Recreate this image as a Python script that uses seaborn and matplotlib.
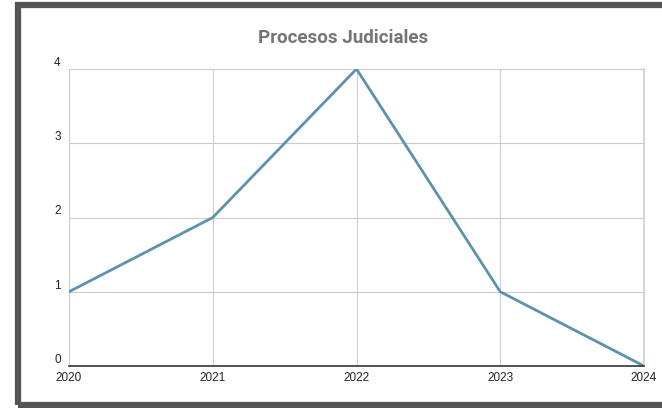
import matplotlib
matplotlib.use("Agg")
import matplotlib.pyplot as plt
import seaborn as sns
import pandas as pd
from matplotlib.patches import Rectangle

# ── Data ─────────────────────────────────────────────────────
years = [2020, 2021, 2022, 2023, 2024]
procesos = [1, 2, 4, 1, 0]
y_ticks = [0, 1, 2, 3, 4]

df = pd.DataFrame({"Año": years, "Procesos": procesos})

sns.set_style("whitegrid")
plt.rcParams["font.family"] = ["Liberation Sans", "DejaVu Sans"]

fig = plt.figure(figsize=(6.62, 4.08), dpi=100)
ax = fig.add_axes([69 / 662, 1 - 366 / 408, (644 - 69) / 662, (366 - 69) / 408])

sns.lineplot(data=df, x="Año", y="Procesos", ax=ax, color="#5b93ad", linewidth=2)

ax.set_xlim(years[0], years[-1])
ax.set_ylim(0, 4)
ax.set_xticks(years)
ax.set_xticklabels([str(y) for y in years], fontsize=8.5, color="#222222")
ax.set_yticks(y_ticks)
ax.set_yticklabels([str(v) for v in y_ticks], fontsize=8.5, color="#222222")
for lbl in ax.get_yticklabels():
    lbl.set_va("bottom")
ax.tick_params(axis="y", length=0, pad=6)
ax.tick_params(axis="x", length=0, pad=4)
ax.set_xlabel("")
ax.set_ylabel("")
ax.grid(True, color="#cccccc", linewidth=0.8)

for side in ["top", "left"]:
    ax.spines[side].set_visible(False)
ax.spines["right"].set_color("#cccccc")
ax.spines["right"].set_linewidth(1.2)
ax.spines["bottom"].set_color("#333333")
ax.spines["bottom"].set_linewidth(1.2)

fig.text(343 / 662, 1 - 38 / 408, "Procesos Judiciales", ha="center", va="center",
         fontsize=13.5, fontweight="bold", color="#757575", family=["Roboto", "DejaVu Sans"])

# dark frame around the card (cut off on the right)
fig.patches.append(Rectangle((18 / 662, 1 - 404.5 / 408), 700 / 662, 400 / 408,
                             transform=fig.transFigure, fill=False,
                             edgecolor="#555555", linewidth=4.5, zorder=10))

fig.savefig("out.png", dpi=100)
plt.close()
